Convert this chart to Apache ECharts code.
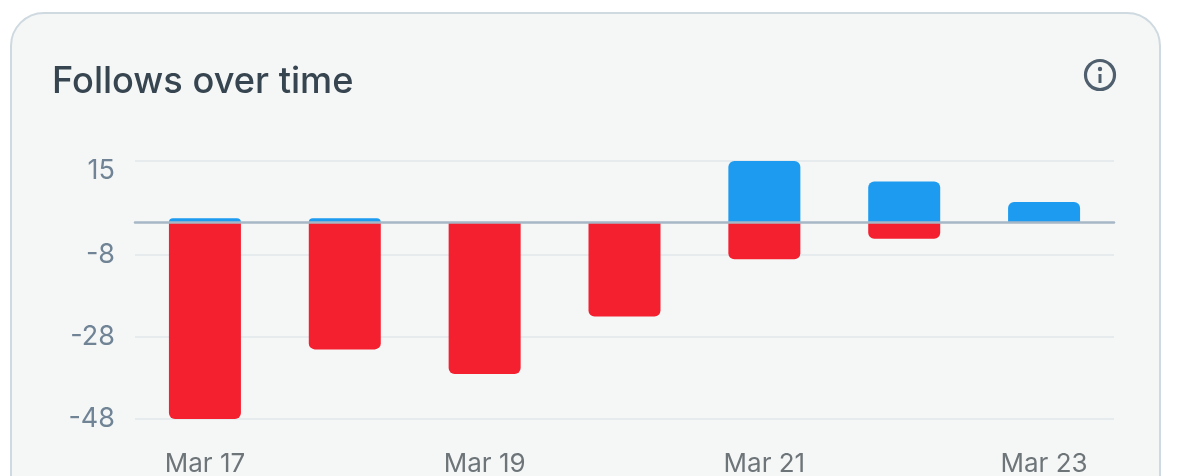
<!DOCTYPE html>
<html><head><meta charset="utf-8">
<style>
html,body{margin:0;padding:0;width:1180px;height:476px;overflow:hidden;background:#fff}
#card{position:absolute;left:10px;top:12px;width:1147px;height:520px;border:2px solid #cfd9e0;border-radius:34px;background:#f5f7f7}
#chart{position:absolute;left:0;top:0;width:1180px;height:476px}
</style>
<script src="https://cdn.jsdelivr.net/npm/echarts@6/dist/echarts.min.js"></script>
</head><body>
<div id="card"></div>
<div id="chart"></div>
<script>
const categories = ['Mar 17','Mar 18','Mar 19','Mar 20','Mar 21','Mar 22','Mar 23'];
const follows = [1, 1, 0, 0, 15, 10, 5];
const unfollows = [-48, -31, -37, -23, -9, -4, 0];
const yTicks = [-48, -28, -8, 15];
const titleText = 'Follows over time';
const font = 'Inter';
const chart = echarts.init(document.getElementById('chart'), null, {renderer:'canvas'});
chart.setOption({
  animation:false,
  backgroundColor:'transparent',
  title:{text:titleText,left:47,top:59,textStyle:{fontFamily:font,fontSize:36.2,fontWeight:500,color:'#36454f'}},
  grid:{left:135,right:66,top:161,bottom:57,containLabel:false,outerBoundsMode:'none'},
  xAxis:{type:'category',data:categories,z:5,
    axisLine:{onZero:true,lineStyle:{color:'#a6b7c5',width:2.5}},
    axisTick:{show:false},
    axisLabel:{interval:1,margin:32,fontFamily:font,fontSize:26,color:'#6e7579',hideOverlap:false,showMaxLabel:true}},
  yAxis:{type:'value',min:-48,max:15,
    axisLine:{show:false},axisTick:{show:false,customValues:yTicks},
    splitLine:{show:true,lineStyle:{color:'#e6ebee',width:2}},
    axisLabel:{customValues:yTicks,margin:20,verticalAlignMaxLabel:'top',lineHeight:14,padding:[3,0,0,0],fontFamily:font,fontSize:27,color:'#708496'}},
  series:[
    {name:'Follows',type:'bar',stack:'a',data:follows,barWidth:72,itemStyle:{color:'#1d9bf0',borderRadius:[6,6,0,0]}},
    {name:'Unfollows',type:'bar',stack:'a',data:unfollows,barWidth:72,itemStyle:{color:'#f4202f',borderRadius:[0,0,6,6]}}
  ],
  graphic:[
    {type:'circle',shape:{cx:1100,cy:75,r:14.5},style:{fill:'none',stroke:'#4f5f6d',lineWidth:3.2}},
    {type:'circle',shape:{cx:1100,cy:69,r:2.2},style:{fill:'#4f5f6d'}},
    {type:'rect',shape:{x:1098.5,y:74,width:3,height:9},style:{fill:'#4f5f6d'}}
  ]
});
</script>
</body></html>
